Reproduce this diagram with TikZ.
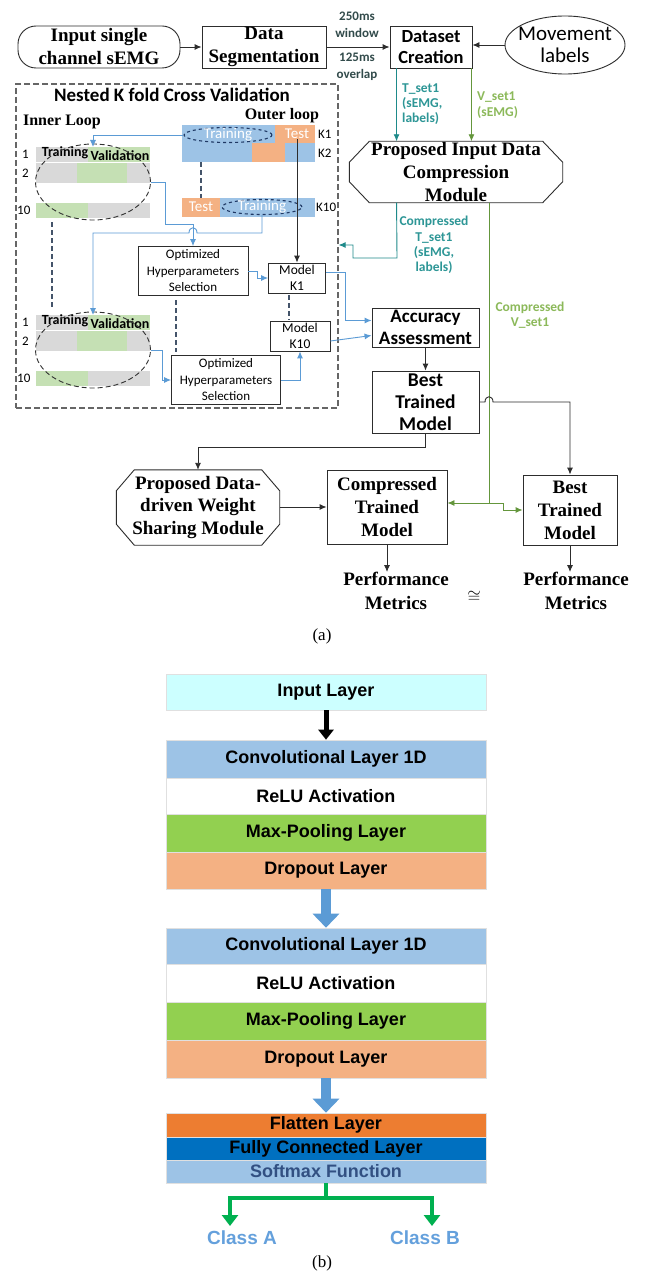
\documentclass[tikz,border=0pt]{standalone}
\usepackage{fontspec}
\setmainfont{Liberation Serif}
\newfontfamily\calfont{Carlito}
\newfontfamily\arfont{Liberation Sans}
\usetikzlibrary{shapes.geometric, arrows.meta, positioning, calc}
\definecolor{barblue}{RGB}{157,195,230}
\definecolor{barorange}{RGB}{244,177,131}
\definecolor{bargray}{RGB}{217,217,217}
\definecolor{bargreen}{RGB}{197,224,180}
\definecolor{linkblue}{RGB}{91,155,213}
\definecolor{tealline}{RGB}{30,138,138}
\definecolor{tealtext}{RGB}{45,150,150}
\definecolor{oliveline}{RGB}{100,150,60}
\definecolor{olivetext}{RGB}{140,185,90}
\definecolor{darkline}{RGB}{45,45,45}
\definecolor{dashnavy}{RGB}{68,84,106}
\definecolor{ellnavy}{RGB}{31,56,100}
\definecolor{toplbl}{RGB}{50,75,75}
\definecolor{inputcyan}{RGB}{204,255,255}
\definecolor{poolgreen}{RGB}{146,208,80}
\definecolor{flatorange}{RGB}{237,125,49}
\definecolor{fcblue}{RGB}{0,112,192}
\definecolor{smtext}{RGB}{50,80,130}
\definecolor{classgreen}{RGB}{0,176,80}
\definecolor{classblue}{RGB}{100,160,220}
\tikzstyle{ar} = [-{Latex[length=7pt,width=6pt]}, line width=0.9pt, draw=darkline]

\begin{document}
\begin{tikzpicture}[x=1pt, y=-1pt,
  serifbox/.style={rectangle, draw=darkline, line width=0.9pt, fill=white, align=center, inner sep=0pt, font=\fontsize{19}{23}\selectfont\bfseries},
  calbox/.style={rectangle, draw=darkline, line width=0.9pt, fill=white, align=center, inner sep=0pt, font=\calfont\fontsize{19}{21.5}\selectfont\bfseries},
  smallbox/.style={rectangle, draw=darkline, line width=0.8pt, fill=white, align=center, inner sep=0pt, font=\calfont\fontsize{13}{16.5}\selectfont},
  octtext/.style={rectangle, align=center, inner sep=0pt, font=\fontsize{19}{23}\selectfont\bfseries},
  octline/.style={draw=darkline, line width=0.9pt},
  lbl/.style={align=center, inner sep=0pt, font=\calfont\fontsize{13.5}{15.3}\selectfont\bfseries},
  barlbl/.style={inner sep=0pt, text=white, font=\calfont\fontsize{15}{15}\selectfont},
  klbl/.style={anchor=west, inner sep=0pt, font=\calfont\fontsize{13}{13}\selectfont},
  gridlbl/.style={inner sep=0pt, font=\calfont\fontsize{14}{14}\selectfont\bfseries},
  dashell/.style={ellipse, draw=ellnavy, dashed, line width=1.1pt, inner sep=-3pt, minimum height=15pt},
  gridell/.style={ellipse, draw=black!80, dash pattern=on 5pt off 3pt, line width=0.9pt, minimum width=115pt, minimum height=76pt},
  dashline/.style={draw=dashnavy, dash pattern=on 5pt off 3pt, line width=1.4pt},
  blar/.style={-{Latex[length=7pt,width=6pt]}, line width=0.9pt, draw=linkblue},
  tlar/.style={-{Latex[length=7pt,width=6pt]}, line width=0.9pt, draw=tealline},
  olar/.style={-{Latex[length=7pt,width=6pt]}, line width=0.9pt, draw=oliveline},
  layer/.style={rectangle, minimum width=320pt, inner sep=0pt, draw=black!12, line width=0.6pt, font=\arfont\fontsize{18}{18}\selectfont\bfseries},
  bigblk/.style={-{Triangle[length=10pt,width=15pt]}, line width=5pt, draw=black},
  bigblu/.style={-{Triangle[length=14pt,width=26pt]}, line width=10pt, draw=linkblue},
  gthick/.style={-{Triangle[length=11pt,width=16pt]}, line width=4pt, draw=classgreen}]

  \fill[white] (0,0) rectangle (645,1276);
  \useasboundingbox (0,0) rectangle (645,1276);

  % (a) top row
  \node[serifbox, rounded corners=18pt, minimum width=162pt, minimum height=42pt] (insig) at (99,47) {Input single\\channel sEMG};
  \node[serifbox, minimum width=124pt, minimum height=42pt] (dseg) at (264,47) {Data\\Segmentation};
  \node[calbox, font=\calfont\fontsize{18.5}{21}\selectfont\bfseries, minimum width=82pt, minimum height=42pt] (dset) at (431,47) {Dataset\\Creation};
  \node[ellipse, draw=darkline, line width=0.9pt, inner sep=-10pt, minimum width=120pt, minimum height=58pt, align=center, font=\calfont\fontsize{21}{22}\selectfont] (mov) at (565,45) {Movement\\labels};
  \node[lbl, text=toplbl, font=\calfont\fontsize{13}{17}\selectfont\bfseries] (win) at (357,25) {250ms\\window};
  \node[lbl, text=toplbl, font=\calfont\fontsize{13}{17}\selectfont\bfseries] (ovl) at (357,67) {125ms\\overlap};

  \draw[ar] (insig) -- (dseg);
  \draw[ar] (dseg) -- (dset);
  \draw[ar] (mov.west) -- (mov.west -| dset.east);

  % compression module
  \node[octtext, minimum width=213pt, minimum height=61pt] (cmod) at (456,172) {Proposed Input Data\\Compression\\Module};
  \draw[octline] ($(cmod.north west)+(20,0)$) -- ($(cmod.north east)+(-20,0)$) -- ($(cmod.north east)+(0,21)$) -- ($(cmod.south east)+(0,-21)$) -- ($(cmod.south east)+(-20,0)$) -- ($(cmod.south west)+(20,0)$) -- ($(cmod.south west)+(0,-21)$) -- ($(cmod.north west)+(0,21)$) -- cycle;
  \coordinate (tsrc) at ($(dset.south west)+(7,0)$);
  \coordinate (vsrc) at ($(dset.south east)+(-1,0)$);
  \draw[tlar] (tsrc) -- (tsrc |- cmod.north);
  \draw[olar] (vsrc) -- (vsrc |- cmod.north);
  \node[lbl, text=tealtext, align=left, anchor=west] (tlab) at (402,104) {T\_set1\\(sEMG,\\labels)};
  \node[lbl, text=olivetext, align=left, anchor=west] (vlab) at (477,105) {V\_set1\\(sEMG)};

  % nested k fold box
  \node[draw=black!60, dash pattern=on 6pt off 3pt, line width=1.2pt, minimum width=322pt, minimum height=324pt, inner sep=0pt] (ncv) at (177,246) {};
  \node[inner sep=0pt, font=\calfont\fontsize{19}{19}\selectfont\bfseries] (ncvt) at (172,95) {Nested K fold Cross Validation};
  \node[inner sep=0pt, font=\fontsize{16}{16}\selectfont\bfseries] (inl) at (62,122) {Inner Loop};
  \node[inner sep=0pt, font=\fontsize{16}{16}\selectfont\bfseries] (outl) at (282,116) {Outer loop};

  % outer loop bars
  \fill[barblue] (182,125) rectangle (275,143);
  \fill[barorange] (275,125) rectangle (315,143);
  \fill[barblue] (182,143) rectangle (252,162);
  \fill[barorange] (252,143) rectangle (285,162);
  \fill[barblue] (285,143) rectangle (315,162);
  \fill[barorange] (182,198) rectangle (220,217);
  \fill[barblue] (220,198) rectangle (315,217);
  \node[dashell, minimum width=88pt] (otr1) at (228,135) {\calfont\fontsize{15}{15}\selectfont\color{white}Training};
  \node[barlbl] (ots1) at (297,134) {Test};
  \node[barlbl] (ots10) at (201,207) {Test};
  \node[dashell, minimum width=80pt] (otr10) at (262,207) {\calfont\fontsize{15}{15}\selectfont\color{white}Training};
  \node[klbl] (k1) at (318,134) {K1};
  \node[klbl] (k2) at (318,153) {K2};
  \node[klbl] (k10) at (316,207) {K10};
  \draw[dashline] (201,162) -- (201,198);

  % inner loop, upper
  \fill[bargray] (36,147) rectangle (88,162);
  \fill[bargreen] (88,147) rectangle (150,162);
  \fill[bargray] (36,163) rectangle (77,183);
  \fill[bargreen] (77,163) rectangle (127,183);
  \fill[bargray] (127,163) rectangle (150,183);
  \fill[bargreen] (36,203) rectangle (88,218);
  \fill[bargray] (88,203) rectangle (150,218);
  \node[gridlbl] (tr1) at (65,153) {Training};
  \node[gridlbl] (va1) at (120,156) {Validation};
  \node[klbl] (r1a) at (22,154) {1};
  \node[klbl] (r2a) at (22,173) {2};
  \node[klbl] (r10a) at (17,210) {10};
  \node[gridell] (iel1) at (93,182) {};
  \coordinate (in1top) at (93,147);
  \draw[dashline] (52,222) -- (52,308);

  % inner loop, lower
  \fill[bargray] (36,315) rectangle (88,330);
  \fill[bargreen] (88,315) rectangle (150,330);
  \fill[bargray] (36,331) rectangle (77,351);
  \fill[bargreen] (77,331) rectangle (127,351);
  \fill[bargray] (127,331) rectangle (150,351);
  \fill[bargreen] (36,371) rectangle (88,386);
  \fill[bargray] (88,371) rectangle (150,386);
  \node[gridlbl] (tr2) at (65,321) {Training};
  \node[gridlbl] (va2) at (120,324) {Validation};
  \node[klbl] (r1b) at (22,322) {1};
  \node[klbl] (r2b) at (22,341) {2};
  \node[klbl] (r10b) at (17,378) {10};
  \node[gridell] (iel2) at (93,350) {};
  \coordinate (in2top) at (93,315);

  % hyperparameters and models
  \node[smallbox, minimum width=110pt, minimum height=49pt] (opt1) at (193,271) {Optimized\\Hyperparameters\\Selection};
  \node[smallbox, minimum width=109pt, minimum height=49pt] (opt2) at (226,380) {Optimized\\Hyperparameters\\Selection};
  \node[smallbox, font=\calfont\fontsize{13.5}{16.5}\selectfont, minimum width=57pt, minimum height=30pt] (mk1) at (297,278) {Model\\K1};
  \node[smallbox, font=\calfont\fontsize{13.5}{16.5}\selectfont, minimum width=60pt, minimum height=30pt] (mk10) at (300,336) {Model\\K10};
  \draw[dashline] (176,300) -- (176,352);
  \draw[dashline] (289,295) -- (289,320);

  \draw[blar] (otr1.west) -| (in1top);
  \draw[blar] (iel1.east) -- (165,182) -- (165,224) -| (opt1.north);
  \draw[blar] (otr10.south) -- (262,233) -- (197,233) .. controls (197,226) and (189,226) .. (189,233) -- (93,233) -- (in2top);
  \draw[blar] (iel2.east) -- (162,350) |- (opt2.west);
  \draw[blar] (opt1.east) -- (257,271) |- (mk1.west);
  \draw[blar] (opt2.east) -| (mk10.south);
  \draw[ar] (ots1.south) -- (ots1.south |- mk1.north);

  % accuracy and best model
  \node[calbox, minimum width=107pt, minimum height=39pt] (acc) at (425.5,327.5) {Accuracy\\Assessment};
  \node[calbox, font=\calfont\fontsize{19.5}{22}\selectfont\bfseries, minimum width=107pt, minimum height=62pt] (bt1) at (425.5,402) {Best\\Trained\\Model};
  \draw[blar] ($(mk1.east)+(0,-6)$) -- (345,272) |- ($(acc.west)+(0,-7)$);
  \draw[blar] ($(mk10.east)+(0,5)$) -- ($(acc.west)+(0,8)$);
  \draw[ar] (acc) -- (bt1);

  % compressed sets
  \coordinate (tin) at ($(ncv.east)+(0,-1)$);
  \draw[tlar] (tsrc |- cmod.south) -- (397,258) -- (353,258) -- (353,245) -- (tin);
  \node[lbl, text=tealtext] (ctlab) at (434,245) {Compressed\\T\_set1\\(sEMG,\\labels)};
  \node[lbl, text=olivetext] (cvlab) at (530,315) {Compressed\\V\_set1};

  % bottom row
  \node[octtext, minimum width=163pt, minimum height=75pt] (wsm) at (198,507.5) {Proposed Data-\\driven Weight\\Sharing Module};
  \draw[octline] ($(wsm.north west)+(18,0)$) -- ($(wsm.north east)+(-18,0)$) -- ($(wsm.north east)+(0,21)$) -- ($(wsm.south east)+(0,-21)$) -- ($(wsm.south east)+(-18,0)$) -- ($(wsm.south west)+(18,0)$) -- ($(wsm.south west)+(0,-21)$) -- ($(wsm.north west)+(0,21)$) -- cycle;
  \node[serifbox, minimum width=120pt, minimum height=74pt] (ct) at (387,507) {Compressed\\Trained\\Model};
  \node[serifbox, minimum width=94pt, minimum height=70pt] (bt2) at (570,510) {Best\\Trained\\Model};
  \node[inner sep=0pt, align=center, font=\fontsize{19}{24}\selectfont\bfseries] (pm1) at (396,591) {Performance\\Metrics};
  \node[inner sep=0pt, align=center, font=\fontsize{19}{24}\selectfont\bfseries] (pm2) at (576,591) {Performance\\Metrics};
  \node[inner sep=0pt, font=\fontsize{17}{17}\selectfont] (approx) at (474,597) {$\cong$};

  \coordinate (gj) at (489,503);
  \coordinate (gk) at (503,510);
  \draw[draw=oliveline, line width=0.9pt] (cmod.south -| gj) -- (gj);
  \draw[olar] (gj) -- (gj -| ct.east);
  \draw[olar] (gj) -| (gk) -- (gk -| bt2.west);

  \draw[ar] (bt1.east) -- (485,402) .. controls (485,395) and (493,395) .. (493,402) -| (bt2.north);
  \draw[ar] (bt1.south) -- ++(0,14) -| (wsm.north);
  \draw[ar] (wsm.east |- ct.west) -- (ct.west);
  \draw[ar] (ct.south) -- (ct.south |- pm1.north);
  \draw[ar] (bt2.south) -- (bt2.south |- pm2.north);

  \node[font=\fontsize{17}{17}\selectfont] (capa) at (322,636) {(a)};

  % (b) network layers
  \node[layer, fill=inputcyan, minimum height=36pt] (inlay) at (326,692) {Input Layer};
  \node[layer, fill=barblue, minimum height=38pt] (conv1) at (326,759) {Convolutional Layer 1D};
  \node[layer, fill=white, minimum height=36pt] (relu1) at (326,796) {ReLU Activation};
  \node[layer, fill=poolgreen, minimum height=38pt] (pool1) at (326,833) {Max-Pooling Layer};
  \node[layer, fill=barorange, minimum height=37pt] (drop1) at (326,870.5) {Dropout Layer};

  \node[layer, fill=barblue, minimum height=36pt] (conv2) at (326,946) {Convolutional Layer 1D};
  \node[layer, fill=white, minimum height=38pt] (relu2) at (326,983) {ReLU Activation};
  \node[layer, fill=poolgreen, minimum height=38pt] (pool2) at (326,1021) {Max-Pooling Layer};
  \node[layer, fill=barorange, minimum height=38pt] (drop2) at (326,1059) {Dropout Layer};

  \node[layer, fill=flatorange, minimum height=24pt] (flat) at (326,1125) {Flatten Layer};
  \node[layer, fill=fcblue, minimum height=23pt] (fc) at (326,1148.5) {Fully Connected Layer};
  \node[layer, fill=barblue, text=smtext, minimum height=23pt] (soft) at (326,1171.5) {Softmax Function};

  \draw[bigblk] (inlay.south) -- (conv1.north);
  \draw[bigblu] (drop1.south) -- (conv2.north);
  \draw[bigblu] (drop2.south) -- (flat.north);

  \coordinate (ca) at (230,1226);
  \coordinate (cb) at (432,1226);
  \draw[gthick] (soft.south) -- ++(0,15) -| (ca);
  \draw[gthick] (soft.south) -- ++(0,15) -| (cb);
  \node[text=classblue, font=\arfont\fontsize{19}{19}\selectfont\bfseries] (clsa) at (242,1238) {Class A};
  \node[text=classblue, font=\arfont\fontsize{19}{19}\selectfont\bfseries] (clsb) at (425,1238) {Class B};

  \node[font=\fontsize{17}{17}\selectfont] (capb) at (322,1263) {(b)};
\end{tikzpicture}
\end{document}
